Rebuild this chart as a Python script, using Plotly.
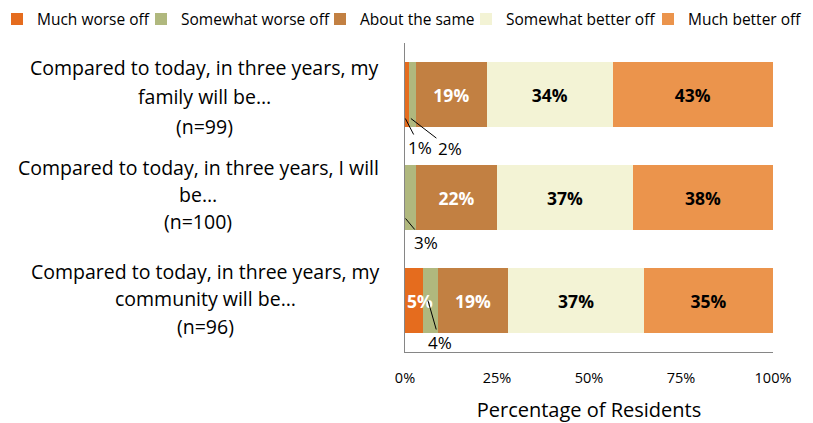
import plotly.graph_objects as go

categories = ["family", "self", "community"]
cat_lines = [
    ["Compared to today, in three years, my", "family will be…", "(n=99)"],
    ["Compared to today, in three years, I will", "be…", "(n=100)"],
    ["Compared to today, in three years, my", "community will be…", "(n=96)"],
]
series_names = ["Much worse off", "Somewhat worse off", "About the same",
                "Somewhat better off", "Much better off"]
much_worse = [1.0, 0, 5]
somewhat_worse = [2.0, 3, 4]
about_same = [19.2, 22, 19]
somewhat_better = [34.3, 37, 37]
much_better = [43.4, 38, 35]
x_ticks = [0, 25, 50, 75, 100]

series_values = [much_worse, somewhat_worse, about_same, somewhat_better, much_better]
colors = ["#E56C1E", "#B0B87E", "#C28042", "#F3F3D5", "#EB944C"]
text_colors = ["white", "white", "white", "black", "black"]
FONT = "Open Sans, sans-serif"
MIN_INSIDE = 4.5  # values below this get a leader-line label

# page body has an 8px default margin: work in window pixels, shift into figure pixels
BODY = 8
W, H = 813 - BODY, 423 - BODY
PL, PR, PT, PB = 405 - BODY, 773 - BODY, 43 - BODY, 352 - BODY
PW, PH = PR - PL, PB - PT

def px_to_paper_x(px):
    return (px - BODY - PL) / PW

def px_to_paper_y(py):
    return (PB - (py - BODY)) / PH

legend_text_left = [33, 177, 356, 502, 684]

fig = go.Figure()
ys = list(range(len(categories)))
annotations = []
for i, (name, vals, col, tc) in enumerate(zip(series_names, series_values, colors, text_colors)):
    if i == 0:
        # first segment is narrow: its label overflows onto the next segment, so draw on top
        txt = [""] * len(vals)
        for r, v in enumerate(vals):
            if v >= MIN_INSIDE:
                annotations.append(dict(
                    x=0, y=r, xref="x", yref="y", text=f"<b>{v:.0f}%</b>",
                    showarrow=False, xanchor="left", yanchor="middle",
                    font=dict(family=FONT, size=17.5, color=tc),
                ))
    else:
        txt = [f"<b>{v:.0f}%</b>" if v >= MIN_INSIDE else "" for v in vals]
    fig.add_trace(go.Bar(
        y=ys, x=vals, name=name, orientation="h", width=0.64,
        marker=dict(color=col, line=dict(width=0)),
        text=txt, textposition="inside", insidetextanchor="middle",
        textangle=0, constraintext="none", cliponaxis=False,
        textfont=dict(family=FONT, size=17.5, color=tc),
        hoverinfo="skip",
        legend="legend" if i == 0 else f"legend{i + 1}",
    ))

# leader-line labels for small segments
offsets = {  # (row, series index): (fraction along segment, dy in category units, ax px, ay px)
    (0, 0): (0.1, 0.233, 15, 29),
    (0, 1): (0.3, 0.233, 39, 30),
    (1, 1): (0.05, 0.204, 20, 24),
    (2, 1): (0.31, 0.0, 12, 42),
}
for (r, s), (frac, dy, ax, ay) in offsets.items():
    v = series_values[s][r]
    start = sum(series_values[k][r] for k in range(s))
    xpt = start + v * frac
    annotations.append(dict(
        x=xpt, y=r + dy, xref="x", yref="y", text=f"{v:.0f}%",
        showarrow=True, arrowhead=0, arrowwidth=1, arrowcolor="black",
        ax=ax, ay=ay, standoff=0, startstandoff=0,
        font=dict(family=FONT, size=17, color="black"),
    ))

# category labels (one annotation per line for Excel-like spacing)
row_centers_px = [204, 198, 205]
row_mid_offset_px = [2, -3, -2]
row_spacing_px = [29.5, 27, 27.5]
for r, lines in enumerate(cat_lines):
    for i, line in enumerate(lines):
        annotations.append(dict(
            x=px_to_paper_x(row_centers_px[r]), xref="paper",
            y=r + (row_mid_offset_px[r] + (i - 1) * row_spacing_px[r]) / (PH / 3), yref="y",
            text=line, showarrow=False, xanchor="center", yanchor="middle",
            font=dict(family=FONT, size=19.5, color="black"),
        ))

layout_legends = {}
for i, tl in enumerate(legend_text_left):
    key = "legend" if i == 0 else f"legend{i + 1}"
    layout_legends[key] = dict(
        orientation="h", x=px_to_paper_x(tl - 36), xanchor="left",
        y=px_to_paper_y(19.5), yanchor="middle",
        font=dict(family=FONT, size=15.5, color="black"),
        bgcolor="rgba(0,0,0,0)", itemclick=False, itemdoubleclick=False,
        itemwidth=30,
    )

fig.update_layout(
    barmode="stack",
    width=W, height=H,
    margin=dict(l=PL, r=W - PR, t=PT, b=H - PB, autoexpand=False),
    paper_bgcolor="white", plot_bgcolor="white",
    font=dict(family=FONT, color="black"),
    showlegend=True,
    xaxis=dict(range=[0, 100], tickvals=x_ticks, ticktext=[f"{t}%" for t in x_ticks],
               showgrid=False, zeroline=False, showline=True, linecolor="#868686",
               linewidth=1, ticks="", tickfont=dict(family=FONT, size=14.5),
               ticklabelstandoff=13,
               title=dict(text="Percentage of Residents", font=dict(family=FONT, size=20),
                          standoff=20)),
    yaxis=dict(range=[2.5, -0.5], showticklabels=False, showgrid=False, zeroline=False,
               showline=True, linecolor="#868686", linewidth=1, ticks=""),
    annotations=annotations,
    **layout_legends,
)

fig.write_html("out.html")
